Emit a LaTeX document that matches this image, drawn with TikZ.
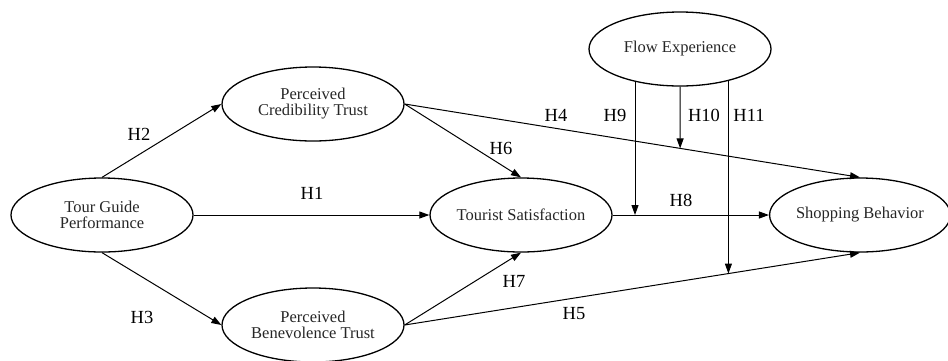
\documentclass[tikz,border=0pt]{standalone}
\usepackage{fontspec}
\setmainfont{Liberation Serif}
\usetikzlibrary{calc,shapes.geometric,arrows.meta}
\tikzset{
  var/.style={draw=black, ellipse, line width=1.3pt, minimum width=182pt, minimum height=74pt, inner sep=0pt, align=center, text=black!85, font=\fontsize{16.5}{16}\selectfont},
  path/.style={draw=black, line width=1pt, -{Triangle[length=10pt,width=7pt]}},
  hyp/.style={text=black, inner sep=0pt, font=\fontsize{18.5}{20}\selectfont}
}

\begin{document}
\begin{tikzpicture}[x=1pt,y=-1pt]
  \useasboundingbox (0,0) rectangle (948,360);
  \node[var] (TGP) at (102,215) {Tour Guide\\Performance};
  \node[var] (PCT) at (313,104) {Perceived\\Credibility Trust};
  \node[var] (PBT) at (313,325) {Perceived\\Benevolence Trust};
  \node[var] (TS) at (521,215) {Tourist Satisfaction};
  \node[var, minimum width=174pt] (SB) at (860,215) {Shopping Behavior};
  \node[var] (FE) at (680,49) {Flow Experience};
  \draw[path] (TGP.east) -- (TS.west);
  \draw[path] (TGP.north) -- (PCT.west);
  \draw[path] (TGP.south) -- (PBT.west);
  \draw[path] (PCT.east) -- (TS.north);
  \draw[path] (PBT.east) -- (TS.south);
  \draw[path] (PCT.east) -- (SB.north);
  \draw[path] (PBT.east) -- (SB.south);
  \draw[path] (TS.east) -- (SB.west);
  \coordinate (m9) at ($(TS.east)!0.143!(SB.west)$);
  \coordinate (m10) at ($(PCT.east)!0.605!(SB.north)$);
  \coordinate (m11) at ($(PBT.east)!0.711!(SB.south)$);
  \draw[path] (m9 |- FE.216) -- (m9);
  \draw[path] (FE.south) -- (m10);
  \draw[path] (m11 |- FE.327) -- (m11);
  \node[hyp] (h1) at (312,193) {H1};
  \node[hyp] (h2) at (139,134) {H2};
  \node[hyp] (h3) at (142,317) {H3};
  \node[hyp] (h4) at (556,115) {H4};
  \node[hyp] (h5) at (574,314) {H5};
  \node[hyp] (h6) at (501,148) {H6};
  \node[hyp] (h7) at (514,281) {H7};
  \node[hyp] (h8) at (681,200) {H8};
  \node[hyp] (h9) at (615,115) {H9};
  \node[hyp] (h10) at (704,115) {H10};
  \node[hyp] (h11) at (749,115) {H11};
\end{tikzpicture}
\end{document}
